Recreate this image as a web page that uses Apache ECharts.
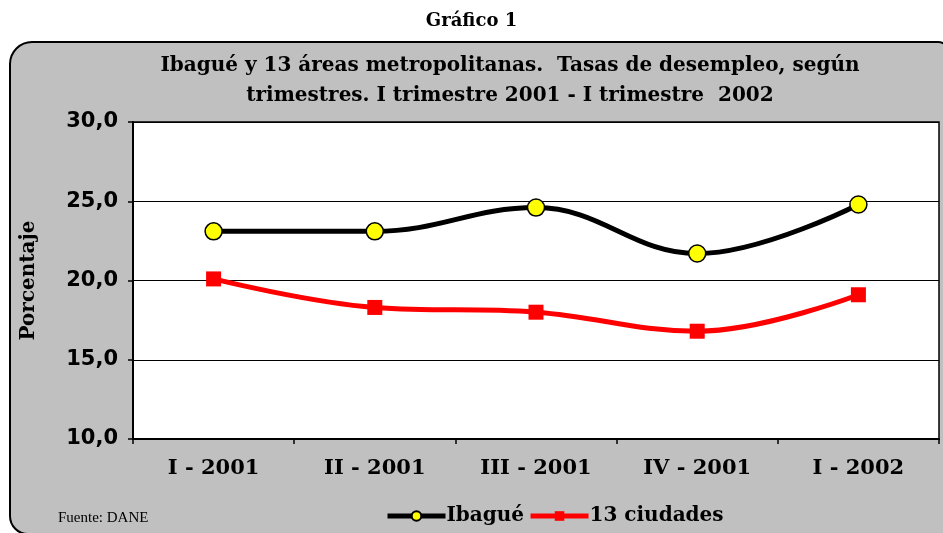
<!DOCTYPE html>
<html><head><meta charset="utf-8">
<script src="https://cdn.jsdelivr.net/npm/echarts@6/dist/echarts.min.js"></script>
<style>html,body{margin:0;padding:0;background:#fff}#c{width:943px;height:533px}</style>
</head><body><div id="c"></div>
<script>
const categories = ['I - 2001', 'II - 2001', 'III - 2001', 'IV - 2001', 'I - 2002'];
const ibague = [23.1, 23.1, 24.6, 21.7, 24.8];
const ciudades = [20.1, 18.3, 18.0, 16.8, 19.1];
const yTicks = { min: 10, max: 30, interval: 5 };
const serif = 'DejaVu Serif';
const chart = echarts.init(document.getElementById('c'));
chart.setOption({
  backgroundColor: '#fff',
  animation: false,
  graphic: [{
    type: 'rect', z: -10,
    shape: { x: 10, y: 42, width: 940, height: 492, r: [22, 12, 0, 18] },
    style: { fill: '#C0C0C0', stroke: '#000', lineWidth: 2 }
  }, {
    type: 'text', z: 5, left: 58, top: 511,
    style: { text: 'Fuente: DANE', font: '15px "Liberation Serif"', fill: '#000' }
  }],
  title: [{
    text: 'Gráfico 1', left: 'center', top: 7,
    textStyle: { fontFamily: serif, fontWeight: 'bold', fontSize: 18, color: '#000' }
  }, {
    text: 'Ibagué y 13 áreas metropolitanas.  Tasas de desempleo, según\ntrimestres. I trimestre 2001 - I trimestre  2002',
    left: 505, textAlign: 'center', top: 46,
    textStyle: { fontFamily: serif, fontWeight: 'bold', fontSize: 20, lineHeight: 30, color: '#000' }
  }],
  legend: {
    bottom: 2, left: 380,
    itemWidth: 58, itemHeight: 12, itemGap: 4,
    lineStyle: { width: 5 },
    textStyle: { fontFamily: serif, fontWeight: 'bold', fontSize: 20, color: '#000', padding: [0, 0, 0, -4] },
    data: ['Ibagué', '13 ciudades']
  },
  grid: {
    left: 133, right: 4, top: 122, bottom: 94,
    show: true, backgroundColor: '#fff', borderColor: '#000', borderWidth: 1.5
  },
  xAxis: {
    type: 'category', data: categories, boundaryGap: true,
    axisLine: { lineStyle: { color: '#000', width: 2 } },
    axisTick: { show: true, length: 5, lineStyle: { color: '#000', width: 1.5 } },
    axisLabel: { fontFamily: serif, fontWeight: 'bold', fontSize: 21, color: '#000', margin: 19 }
  },
  yAxis: {
    type: 'value', min: yTicks.min, max: yTicks.max, interval: yTicks.interval,
    name: 'Porcentaje', nameLocation: 'middle', nameGap: 94, nameRotate: 90,
    nameTextStyle: { fontFamily: serif, fontWeight: 'bold', fontSize: 20, color: '#000' },
    axisLine: { show: true, lineStyle: { color: '#000', width: 2 } },
    axisTick: { show: true, length: 5, lineStyle: { color: '#000', width: 1.5 } },
    splitLine: { show: true, lineStyle: { color: '#000', width: 1.2 } },
    axisLabel: {
      fontFamily: 'DejaVu Sans', fontWeight: 'bold', fontSize: 21, color: '#000', margin: 15,
      formatter: v => v.toFixed(1).replace('.', ',')
    }
  },
  series: [{
    name: 'Ibagué', type: 'line', data: ibague, smooth: 0.4,
    symbol: 'circle', symbolSize: 17,
    lineStyle: { color: '#000', width: 5 },
    itemStyle: { color: '#FFFF00', borderColor: '#000', borderWidth: 1.5 },
    z: 4
  }, {
    name: '13 ciudades', type: 'line', data: ciudades, smooth: 0.4,
    symbol: 'rect', symbolSize: 15,
    lineStyle: { color: '#FF0000', width: 5 },
    itemStyle: { color: '#FF0000', borderWidth: 0 },
    z: 3
  }]
});
</script></body></html>
